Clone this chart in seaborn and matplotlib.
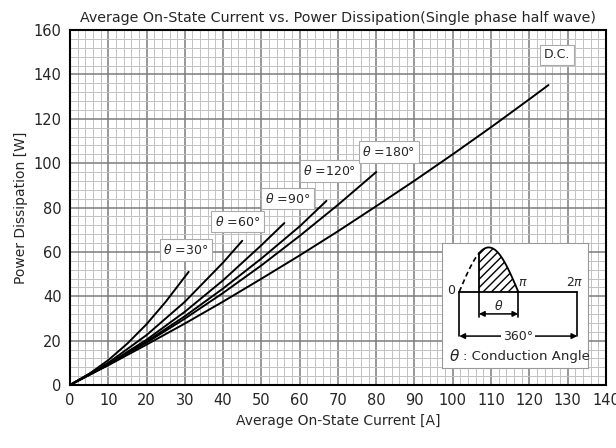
import numpy as np
import pandas as pd
import matplotlib
matplotlib.use("Agg")
import matplotlib.pyplot as plt
import seaborn as sns
from matplotlib.ticker import MultipleLocator

# curves: average current [A] -> power [W]
dc_current = [0, 10, 20, 30, 40, 50, 60, 70, 80, 90, 100, 110, 120, 125]
dc_power = [0, 8.9, 18.2, 27.7, 37.6, 47.9, 58.4, 69.3, 80.6, 92.1, 104, 116.2, 128.8, 135.2]

deg180_current = [0, 10, 20, 30, 40, 50, 60, 70, 80]
deg180_power = [0, 9.2, 19.1, 29.9, 41.5, 53.9, 67.2, 81.2, 96]

deg120_current = [0, 10, 20, 30, 40, 50, 60, 67]
deg120_power = [0, 9.2, 19.6, 31.0, 43.5, 57.0, 71.5, 83]

deg90_current = [0, 10, 20, 30, 40, 50, 56]
deg90_power = [0, 9.5, 20.4, 33.0, 47.2, 63.0, 73]

deg60_current = [0, 10, 20, 30, 40, 45]
deg60_power = [0, 10.0, 22.5, 37.5, 55.2, 65]

deg30_current = [0, 5, 10, 15, 20, 25, 31]
deg30_power = [0, 5.0, 11.2, 18.7, 27.4, 37.5, 51]

curve_names = ["30", "60", "90", "120", "180", "DC"]
curve_text = [r"$\theta$ =30°", r"$\theta$ =60°", r"$\theta$ =90°",
              r"$\theta$ =120°", r"$\theta$ =180°", "D.C."]
label_pos = [(30.3, 60.8), (43.7, 73.6), (56.9, 84.0),
             (67.9, 96.4), (83.3, 105.0), (127.3, 148.8)]

frames = []
for name, cur, pw in zip(curve_names,
                         [deg30_current, deg60_current, deg90_current,
                          deg120_current, deg180_current, dc_current],
                         [deg30_power, deg60_power, deg90_power,
                          deg120_power, deg180_power, dc_power]):
    frames.append(pd.DataFrame({"current": cur, "power": pw, "curve": name}))
data = pd.concat(frames, ignore_index=True)

sns.set_theme(style="white")
plt.rcParams["font.family"] = ["DejaVu Sans"]

fig = plt.figure(figsize=(6.16, 4.48), dpi=100)
ax = fig.add_axes([0.1136, 0.1406, 0.870, 0.7924])

sns.lineplot(data=data, x="current", y="power", units="curve",
             estimator=None, color="black", linewidth=1.4, ax=ax, sort=False)

ax.set_xlim(0, 140)
ax.set_ylim(0, 160)
ax.xaxis.set_major_locator(MultipleLocator(10))
ax.xaxis.set_minor_locator(MultipleLocator(2))
ax.yaxis.set_major_locator(MultipleLocator(20))
ax.yaxis.set_minor_locator(MultipleLocator(4))
ax.grid(which="minor", color="#c2c2c2", linewidth=0.7)
ax.grid(which="major", color="#7c7c7c", linewidth=1.1)
ax.set_axisbelow(True)
for s in ax.spines.values():
    s.set_color("black")
    s.set_linewidth(1.5)
ax.tick_params(which="both", length=0, labelsize=10.5, pad=6)

ax.set_xlabel("Average On-State Current [A]", fontsize=10)
ax.set_ylabel("Power Dissipation [W]", fontsize=10)
ax.set_title("Average On-State Current vs. Power Dissipation(Single phase half wave)",
             fontsize=10.3, pad=6)

for txt, (lx, ly) in zip(curve_text, label_pos):
    ax.text(lx, ly, txt, ha="center", va="center", fontsize=9,
            bbox=dict(boxstyle="square,pad=0.3", facecolor="white",
                      edgecolor="#aaaaaa", linewidth=0.8))

# inset: conduction angle sketch
axi = fig.add_axes([0.7175, 0.1786, 0.237, 0.279])
axi.set_xlim(-0.92, 6.85)
axi.set_ylim(-1.72, 1.10)
axi.set_xticks([])
axi.set_yticks([])
axi.set_facecolor("white")
for s in axi.spines.values():
    s.set_color("#999999")
    s.set_linewidth(0.8)

start = np.pi / 3
t_dash = np.linspace(0, start, 30)
t_on = np.linspace(start, np.pi, 60)
axi.plot([0, 2 * np.pi], [0, 0], color="black", lw=1.3)
axi.plot(t_dash, np.sin(t_dash), color="black", lw=1.2, ls=(0, (3, 2)))
axi.plot(t_on, np.sin(t_on), color="black", lw=1.3)
axi.plot([start, start], [0, np.sin(start)], color="black", lw=1.3)
axi.fill_between(t_on, 0, np.sin(t_on), facecolor="none", edgecolor="black",
                 hatch="////", linewidth=0)
for xv in [0, 2 * np.pi]:
    axi.plot([xv, xv], [0, -1.0], color="black", lw=1.2)
for xv in [start, np.pi]:
    axi.plot([xv, xv], [0, -0.56], color="black", lw=1.2)
axi.annotate("", xy=(start, -0.5), xytext=(np.pi, -0.5),
             arrowprops=dict(arrowstyle="<|-|>", color="black", lw=1.1,
                             shrinkA=0, shrinkB=0, mutation_scale=8))
axi.annotate("", xy=(0, -1.0), xytext=(2 * np.pi, -1.0),
             arrowprops=dict(arrowstyle="<|-|>", color="black", lw=1.1,
                             shrinkA=0, shrinkB=0, mutation_scale=8))
axi.text(np.pi, -1.0, "360°", ha="center", va="center", fontsize=9,
         bbox=dict(boxstyle="square,pad=0.15", facecolor="white", edgecolor="none"))
axi.text((start + np.pi) / 2, -0.32, r"$\theta$", ha="center", va="center", fontsize=9)
axi.text(-0.45, 0.02, "0", ha="center", va="center", fontsize=9)
axi.text(np.pi + 0.22, 0.2, r"$\pi$", ha="center", va="center", fontsize=9)
axi.text(2 * np.pi - 0.15, 0.2, r"2$\pi$", ha="center", va="center", fontsize=9)
axi.text(-0.55, -1.46, r"$\theta$", ha="left", va="center", fontsize=11)
axi.text(0.2, -1.46, ": Conduction Angle", ha="left", va="center", fontsize=9.5)

fig.savefig("out.png", dpi=100)
